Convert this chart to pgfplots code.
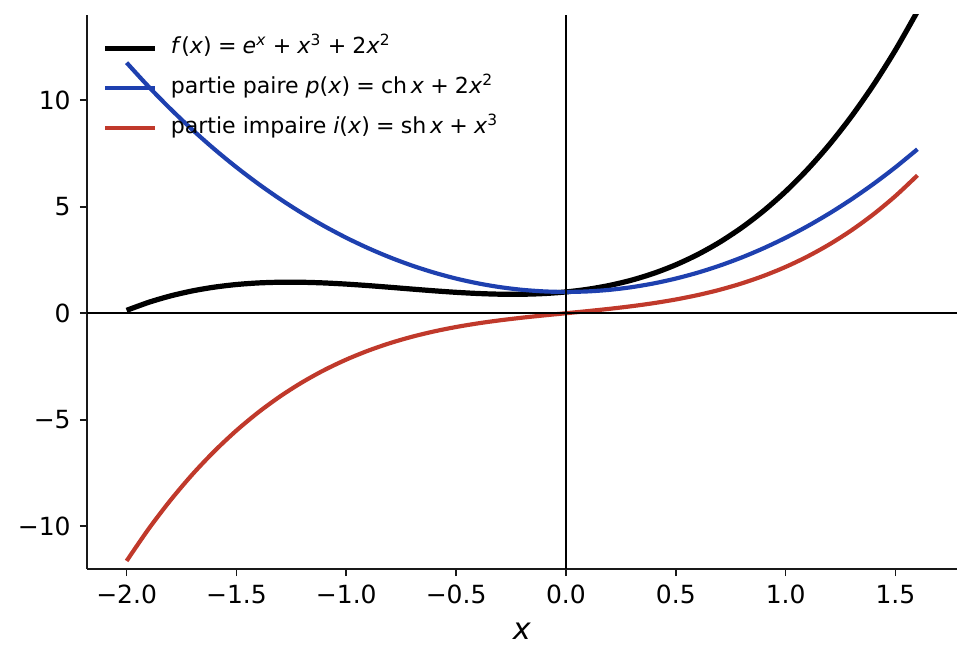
\documentclass[border=0pt]{standalone}
\usepackage{fontspec}
\setmainfont{DejaVu Sans}
\usepackage{pgfplots}
\pgfplotsset{compat=1.18}

\definecolor{cblue}{HTML}{1E40AF}
\definecolor{cred}{HTML}{C0392B}
\newcommand{\gap}{\hspace{0.28em}}

\begin{document}
\begin{tikzpicture}
\begin{axis}[
  scale only axis,
  width=417.6pt, height=265.9pt,
  xmin=-2.18, xmax=1.78,
  ymin=-12, ymax=14,
  axis x line*=bottom,
  axis y line*=left,
  axis line style={-, line width=0.8pt, black!90},
  tick align=outside,
  major tick length=3.5pt,
  tick style={line width=0.8pt, black!90},
  xtick={-2,-1.5,-1,-0.5,0,0.5,1,1.5},
  xticklabels={−2.0,−1.5,−1.0,−0.5,0.0,0.5,1.0,1.5},
  ytick={-10,-5,0,5,10},
  yticklabels={−10,−5,0,5,10},
  tick label style={font=\fontsize{12}{14}\selectfont, inner sep=0pt},
  xticklabel style={anchor=north, yshift=-4.2pt},
  yticklabel style={anchor=east, xshift=-4.2pt},
  xlabel={\textit{x}},
  xlabel style={at={(axis description cs:0.5,0)}, anchor=north, yshift=-26pt,
    inner sep=0pt, font=\fontsize{14.5}{16}\selectfont},
  legend style={at={(axis description cs:0,1)}, anchor=north west,
    xshift=7.2pt, yshift=-8.3pt, draw=none, fill=none, inner sep=0pt,
    font=\fontsize{10.6}{12}\selectfont, row sep=4.2pt, column sep=6.3pt,
    nodes={inner xsep=0pt, inner ysep=2pt, text height=8pt, text depth=3pt}},
  legend cell align=left,
  legend image code/.code={\draw[#1] (0pt,0pt) -- (24pt,0pt);},
]
\addplot[black, line width=2.5pt, smooth] coordinates {
(-2.0,0.1353) (-1.9,0.5105) (-1.8,0.8133) (-1.7,1.0497) (-1.6,1.2259)
(-1.5,1.3481) (-1.4,1.4226) (-1.3,1.4555) (-1.2,1.4532) (-1.1,1.4219)
(-1.0,1.3679) (-0.9,1.2976) (-0.8,1.2173) (-0.7,1.1336) (-0.6,1.0528)
(-0.5,0.9815) (-0.4,0.9263) (-0.3,0.8938) (-0.2,0.8908) (-0.1,0.9238)
(0.0,1.0000) (0.1,1.1262) (0.2,1.3094) (0.3,1.5568) (0.4,1.8759)
(0.5,2.2737) (0.6,2.7582) (0.7,3.3368) (0.8,4.0175) (0.9,4.8086)
(1.0,5.7183) (1.1,6.7551) (1.2,7.9282) (1.3,9.2463) (1.4,10.7192)
(1.5,12.3567) (1.6,14.1691)};
\addlegendentry{\textit{f}(\textit{x})\gap=\gap\textit{e}\textsuperscript{\textit{x}}\gap+\gap\textit{x}\textsuperscript{3}\gap+\gap2\textit{x}\textsuperscript{2}}
\addplot[cblue, line width=2pt, smooth] coordinates {
(-2.0,11.7622) (-1.9,10.6377) (-1.8,9.5875) (-1.7,8.6083) (-1.6,7.6975)
(-1.5,6.8524) (-1.4,6.0709) (-1.3,5.3509) (-1.2,4.6907) (-1.1,4.0885)
(-1.0,3.5431) (-0.9,3.0531) (-0.8,2.6174) (-0.7,2.2352) (-0.6,1.9055)
(-0.5,1.6276) (-0.4,1.4011) (-0.3,1.2253) (-0.2,1.1001) (-0.1,1.0250)
(0.0,1.0000) (0.1,1.0250) (0.2,1.1001) (0.3,1.2253) (0.4,1.4011)
(0.5,1.6276) (0.6,1.9055) (0.7,2.2352) (0.8,2.6174) (0.9,3.0531)
(1.0,3.5431) (1.1,4.0885) (1.2,4.6907) (1.3,5.3509) (1.4,6.0709)
(1.5,6.8524) (1.6,7.6975)};
\addlegendentry{partie paire \textit{p}(\textit{x})\gap=\gap ch\,\textit{x}\gap+\gap2\textit{x}\textsuperscript{2}}
\addplot[cred, line width=2pt, smooth] coordinates {
(-2.0,-11.6269) (-1.9,-10.1272) (-1.8,-8.7742) (-1.7,-7.5586) (-1.6,-6.4716)
(-1.5,-5.5043) (-1.4,-4.6483) (-1.3,-3.8954) (-1.2,-3.2375) (-1.1,-2.6666)
(-1.0,-2.1752) (-0.9,-1.7555) (-0.8,-1.4001) (-0.7,-1.1016) (-0.6,-0.8527)
(-0.5,-0.6461) (-0.4,-0.4748) (-0.3,-0.3315) (-0.2,-0.2093) (-0.1,-0.1012)
(0.0,0.0000) (0.1,0.1012) (0.2,0.2093) (0.3,0.3315) (0.4,0.4748)
(0.5,0.6461) (0.6,0.8527) (0.7,1.1016) (0.8,1.4001) (0.9,1.7555)
(1.0,2.1752) (1.1,2.6666) (1.2,3.2375) (1.3,3.8954) (1.4,4.6483)
(1.5,5.5043) (1.6,6.4716)};
\addlegendentry{partie impaire \textit{i}(\textit{x})\gap=\gap sh\,\textit{x}\gap+\gap\textit{x}\textsuperscript{3}}
\draw[black, line width=0.8pt] (axis cs:-2.18,0) -- (axis cs:1.78,0);
\draw[black, line width=0.8pt] (axis cs:0,-12) -- (axis cs:0,14);
\end{axis}
\pgfresetboundingbox
\useasboundingbox (-41.8pt,-44.2pt) rectangle (425.3pt,273.1pt);
\end{tikzpicture}
\end{document}
